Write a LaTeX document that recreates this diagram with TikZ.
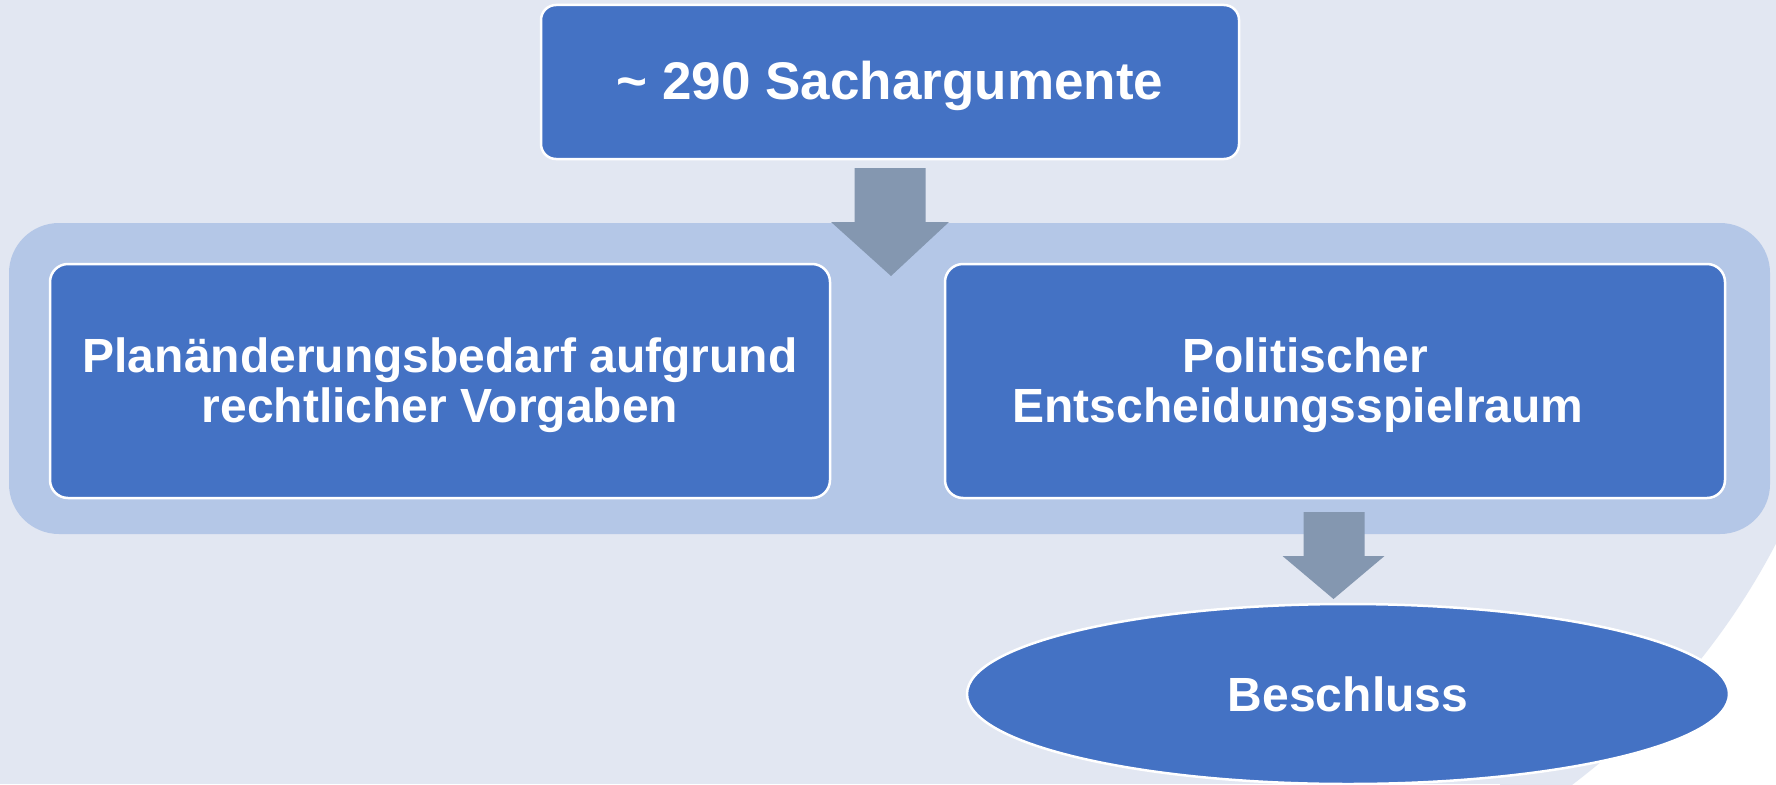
\documentclass[tikz,border=0pt]{standalone}
\usepackage{fontspec}
\setmainfont{Liberation Sans}
\usetikzlibrary{shapes.geometric,calc}
\definecolor{bgcol}{HTML}{E2E7F2}
\definecolor{groupcol}{HTML}{B4C7E7}
\definecolor{boxcol}{HTML}{4472C4}
\definecolor{arrowcol}{HTML}{8497B0}
\begin{document}
\begin{tikzpicture}[x=1pt,y=-1pt,
  box/.style={draw=white, line width=2.5pt, fill=boxcol, rectangle, rounded corners=#1, inner sep=0pt, outer sep=0pt},
  box/.default=18pt,
  txt/.style={text=white, font=\bfseries\fontsize{48}{50}\selectfont, inner sep=0pt, anchor=base},
  blockarrow/.style={fill=arrowcol, draw=none}]
\useasboundingbox (0,0) rectangle (1776,784);
\fill[bgcol] (0,0) rectangle (1776,784);
% white area outside the large background curve (bottom right)
\begin{scope}
  \clip (1500,500) rectangle (1776,784);
  \fill[white] (1500,500) rectangle (1776,784);
  \fill[bgcol] (1138.8,212.3) circle[radius=718pt];
\end{scope}
% group background
\node[fill=groupcol, rectangle, rounded corners=50pt, minimum width=1761pt, minimum height=311pt, inner sep=0pt, outer sep=0pt] (group) at (889.5,378.5) {};
% boxes
\node[box=15pt, minimum width=698pt, minimum height=154pt] (top) at (890,82) {};
\node[txt] (toptxt) at (890,99) {\fontsize{53}{55}\selectfont \textasciitilde{} 290 Sachargumente};
\node[box, minimum width=780pt, minimum height=234pt] (left) at (440,381) {};
\node[txt] (lefttxtA) at (440,372) {Planänderungsbedarf aufgrund};
\node[txt] (lefttxtB) at (440,422) {rechtlicher Vorgaben};
\node[box, minimum width=780pt, minimum height=234pt] (right) at (1335,381) {};
\node[txt] (righttxtA) at (1305,372) {Politischer};
\node[txt] (righttxtB) at (1298,422) {Entscheidungsspielraum};
\node[ellipse, draw=white, line width=2.5pt, fill=boxcol, minimum width=762pt, minimum height=180pt, inner sep=0pt, outer sep=0pt] (end) at (1348,694) {};
\node[txt] (endtxt) at (1348,711) {Beschluss};
% block arrows
\fill[blockarrow] ($(top.south)+(-35.5,9)$) -- ($(top.south)+(35.5,9)$) -- ($(top.south)+(35.5,63)$) -- ($(top.south)+(59,63)$) -- ($(top.south)+(1,117)$) -- ($(top.south)+(-59,63)$) -- ($(top.south)+(-35.5,63)$) -- cycle;
\fill[blockarrow] ($(right.south)+(-31.5,14)$) -- ($(right.south)+(29.5,14)$) -- ($(right.south)+(29.5,58)$) -- ($(right.south)+(49.5,58)$) -- ($(right.south)+(-1.5,101)$) -- ($(right.south)+(-52.5,58)$) -- ($(right.south)+(-31.5,58)$) -- cycle;
\end{tikzpicture}
\end{document}
